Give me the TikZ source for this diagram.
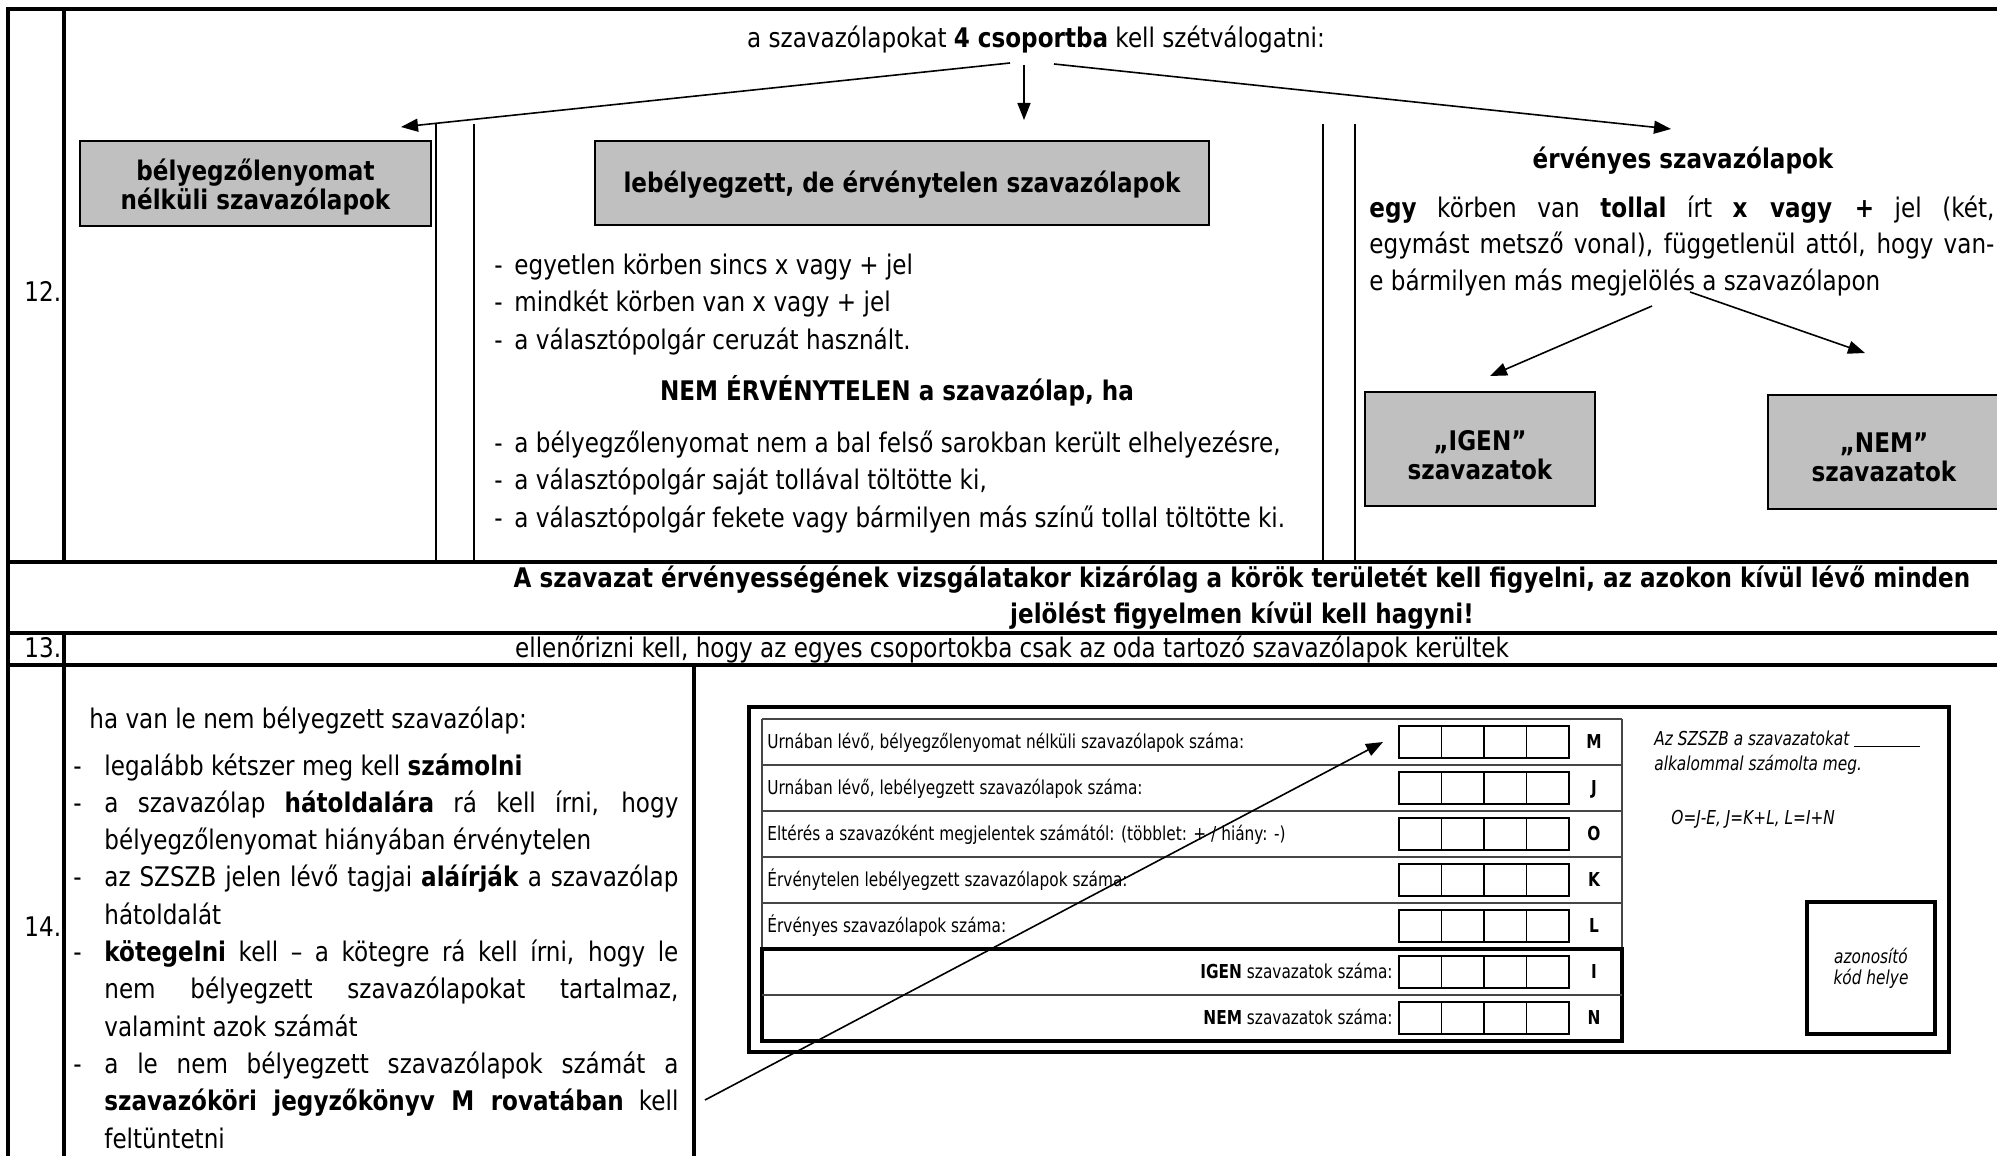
\documentclass[tikz,border=0pt]{standalone}
\usepackage{fontspec}
\setmainfont{DejaVu Sans}[FakeStretch=0.855]
\newfontfamily\condfont{DejaVu Sans}[FakeStretch=0.8]
\usetikzlibrary{arrows.meta}
\definecolor{boxgray}{RGB}{192,192,192}
\definecolor{formline}{RGB}{70,70,70}
\newcommand{\dashA}{\makebox[10pt][l]{-}}
\newcommand{\dashB}{\noindent\hangindent=15.5pt\hangafter=1\makebox[15.5pt][l]{-}}
\begin{document}
\begin{tikzpicture}[x=0.5pt,y=-0.5pt,
  every node/.style={inner sep=0pt, font=\fontsize{13.5}{16}\selectfont},
  tabline/.style={line width=1.6pt},
  rowline/.style={line width=1.8pt},
  inline/.style={line width=1pt},
  graybox/.style={draw, line width=1pt, fill=boxgray},
  boxtext/.style={align=center, font=\bfseries\fontsize{13.5}{14.5}\selectfont},
  bold/.style={font=\bfseries\fontsize{13.5}{16}\selectfont},
  arr/.style={-{Triangle[length=8.5pt,width=6.5pt]}, line width=0.8pt},
  body/.style={font=\fontsize{13.5}{18.75}\selectfont},
  formtxt/.style={font=\condfont\fontsize{9.6}{11}\selectfont},
  formlet/.style={font=\condfont\bfseries\fontsize{9.6}{11}\selectfont},
  formit/.style={font=\condfont\itshape\fontsize{9.6}{10.5}\selectfont},
  cell/.style={draw, line width=0.9pt, minimum width=21.25pt, minimum height=16pt},
]
\useasboundingbox (0,0) rectangle (1997,1156);
\clip (0,0) rectangle (1997,1156);
\fill[white] (0,0) rectangle (1997,1156);

% ---------- table frame ----------
\draw[tabline] (8,1170) -- (8,9) -- (2010,9);
\draw[tabline] (64,9) -- (64,562);
\draw[rowline] (8,562) -- (2010,562);
\draw[rowline] (8,633) -- (2010,633);
\draw[rowline] (8,665) -- (2010,665);
\draw[tabline] (64,633) -- (64,1170);
\draw[tabline] (694,665) -- (694,1170);
\draw[inline] (436,124) -- (436,562);
\draw[inline] (474,124) -- (474,562);
\draw[inline] (1323,124) -- (1323,562);
\draw[inline] (1355,124) -- (1355,562);

% ---------- row numbers ----------
\node[anchor=base west] (n12) at (24,301) {12.};
\node[anchor=base west] (n13) at (24,657) {13.};
\node[anchor=base west] (n14) at (24,936) {14.};

% ---------- row 12 ----------
\node[anchor=base] (title) at (1036,48) {a szavazólapokat \textbf{4 csoportba} kell szétválogatni:};
\coordinate (tL) at (1010,63);
\coordinate (tD) at (1024,65);
\coordinate (tR) at (1054,64);
\coordinate (eL) at (401,127);
\coordinate (eD) at (1024,120);
\coordinate (eR) at (1671,129);
\draw[arr] (tL) -- (eL);
\draw[arr] (tD) -- (eD);
\draw[arr] (tR) -- (eR);

\node[graybox, minimum width=175.5pt, minimum height=42.5pt] (nostamp) at (255.5,183.5) {};
\node[boxtext, anchor=base] (nostampT) at (255.5,209) {bélyegzőlenyomat\\nélküli szavazólapok};
\node[graybox, minimum width=307pt, minimum height=42pt] (invalid) at (902,183) {};
\node[boxtext, anchor=base] (invalidT) at (902,192) {lebélyegzett, de érvénytelen szavazólapok};

\node[body, anchor=base west, align=left] (inv1) at (494,349)
  {\dashA egyetlen körben sincs x vagy + jel\\
   \dashA mindkét körben van x vagy + jel\\
   \dashA a választópolgár ceruzát használt.};
\node[bold, anchor=base] (notinv) at (897,400)
  {NEM ÉRVÉNYTELEN a szavazólap, ha};
\node[body, anchor=base west, align=left] (inv2) at (494,527)
  {\dashA a bélyegzőlenyomat nem a bal felső sarokban került elhelyezésre,\\
   \dashA a választópolgár saját tollával töltötte ki,\\
   \dashA a választópolgár fekete vagy bármilyen más színű tollal töltötte ki.};

\node[bold, anchor=base] (validt) at (1683,169) {érvényes szavazólapok};
\node[anchor=base west, text width=312.5pt, align=justify,
      font=\fontsize{13.5}{18.25}\selectfont] (validp) at (1369,217)
  {\textbf{egy} körben van \textbf{tollal} írt \textbf{x vagy +} jel (két,\linebreak
   egymást metsző vonal), függetlenül attól, hogy van-\linebreak
   e bármilyen más megjelölés a szavazólapon\par};
\coordinate (vA) at (1652,306);
\coordinate (vB) at (1690,292);
\coordinate (eI) at (1490,376);
\coordinate (eN) at (1865,353);
\draw[arr] (vA) -- (eI);
\draw[arr] (vB) -- (eN);
\node[graybox, minimum width=115pt, minimum height=57pt] (igen) at (1480,449) {};
\node[boxtext, anchor=base] (igenT) at (1480,479) {„IGEN”\\szavazatok};
\node[graybox, minimum width=116pt, minimum height=57pt] (nem) at (1884,451.5) {};
\node[boxtext, anchor=base] (nemT) at (1884,481) {„NEM”\\szavazatok};

% ---------- bold note ----------
\node[anchor=base, align=center, font=\bfseries\fontsize{13.5}{18}\selectfont] (note) at (1242,623)
  {A szavazat érvényességének vizsgálatakor kizárólag a körök területét kell figyelni, az azokon kívül lévő minden\\
   jelölést figyelmen kívül kell hagyni!};

% ---------- row 13 ----------
\node[anchor=base] (check) at (1012,657)
  {ellenőrizni kell, hogy az egyes csoportokba csak az oda tartozó szavazólapok kerültek};

% ---------- row 14 left ----------
\node[anchor=base west] (ifnot) at (89,728) {ha van le nem bélyegzett szavazólap:};
\node[anchor=base west, text width=302.5pt, align=justify,
      font=\fontsize{13.5}{18.65}\selectfont] (steps) at (73,775)
  {\parindent=0pt
   \dashB legalább kétszer meg kell \textbf{számolni}\par
   \dashB a szavazólap \textbf{hátoldalára} rá kell írni, hogy\linebreak
     bélyegzőlenyomat hiányában érvénytelen\par
   \dashB az SZSZB jelen lévő tagjai \textbf{aláírják} a szavazólap\linebreak
     hátoldalát\par
   \dashB \textbf{kötegelni} kell – a kötegre rá kell írni, hogy le\linebreak
     nem bélyegzett szavazólapokat tartalmaz,\linebreak
     valamint azok számát\par
   \dashB a le nem bélyegzett szavazólapok számát a\linebreak
     \textbf{szavazóköri jegyzőkönyv M rovatában} kell\linebreak
     feltüntetni\par};

% ---------- row 14 form ----------
\draw[line width=2pt] (749,707) rectangle (1949,1052);
\foreach \yy in {719,765,811,857,903}
  \draw[formline, line width=1pt] (762,\yy) -- (1622,\yy);
\draw[formline, line width=1pt] (762,719) -- (762,949);
\draw[formline, line width=1pt] (1622,719) -- (1622,949);
\draw[line width=1.8pt] (762,949) rectangle (1622,1041);
\draw[formline, line width=1pt] (762,995) -- (1622,995);

\node[formtxt, anchor=base west] (lab0) at (767,748) {Urnában lévő, bélyegzőlenyomat nélküli szavazólapok száma:};
\node[formtxt, anchor=base west] (lab1) at (767,794) {Urnában lévő, lebélyegzett szavazólapok száma:};
\node[formtxt, anchor=base west] (lab2) at (767,840) {Eltérés a szavazóként megjelentek számától: (többlet: + / hiány: -)};
\node[formtxt, anchor=base west] (lab3) at (767,886) {Érvénytelen lebélyegzett szavazólapok száma:};
\node[formtxt, anchor=base west] (lab4) at (767,932) {Érvényes szavazólapok száma:};
\node[formtxt, anchor=base east] (lab5) at (1393,978) {\textbf{IGEN} szavazatok száma:};
\node[formtxt, anchor=base east] (lab6) at (1393,1024) {\textbf{NEM} szavazatok száma:};
\node[formlet, anchor=base] (ltr0) at (1594,748) {M};
\node[formlet, anchor=base] (ltr1) at (1594,794) {J};
\node[formlet, anchor=base] (ltr2) at (1594,840) {O};
\node[formlet, anchor=base] (ltr3) at (1594,886) {K};
\node[formlet, anchor=base] (ltr4) at (1594,932) {L};
\node[formlet, anchor=base] (ltr5) at (1594,978) {I};
\node[formlet, anchor=base] (ltr6) at (1594,1024) {N};
\foreach \r in {0,...,6}
  \foreach \c in {0,1,2,3}
    \node[cell] (cell\r\c) at (1420.25+42.5*\c,742+46*\r) {};

\node[formit, anchor=base west] (times) at (1654,745)
  {Az SZSZB a szavazatokat \rule[-1pt]{33pt}{0.5pt}};
\node[formit, anchor=base west] (times2) at (1654,770) {alkalommal számolta meg.};
\node[formit, anchor=base west] (formula) at (1671,824) {O=J-E, J=K+L, L=I+N};
\node[draw, line width=2pt, minimum width=64pt, minimum height=66pt, formit, align=center]
  (code) at (1871,968) {azonosító\\kód helye};

\coordinate (pS) at (705,1100);
\coordinate (pM) at (1383,742);
\draw[arr] (pS) -- (pM);
\end{tikzpicture}
\end{document}
